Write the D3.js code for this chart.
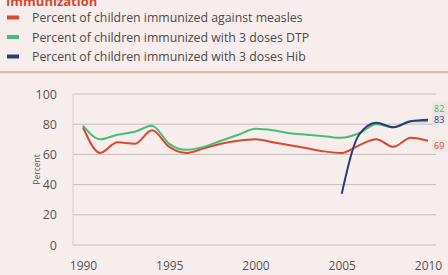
<!DOCTYPE html>
<html>
<head>
<meta charset="utf-8">
<script src="https://cdn.jsdelivr.net/npm/d3@7"></script>
<style>
  body { margin: 0; background: #f8eded; }
  svg { display: block; font-family: "Open Sans", sans-serif; }
</style>
</head>
<body>
<div class="canvas"></div>
<script>
const years = d3.range(1990, 2011);
const measles = [78, 61, 68, 67, 76, 65, 61, 64, 67, 69, 70, 68, 66, 64, 62, 61, 66, 70, 65, 71, 69];
const dtp = [79, 70, 73, 75, 79, 67, 63, 65, 69, 73, 77, 76, 74, 73, 72, 71, 74, 80, 78, 82, 82];
const hibYears = [2005, 2006, 2007, 2008, 2009, 2010];
const hib = [34, 73, 81, 78, 82, 83];
const yTicks = [0, 20, 40, 60, 80, 100];
const xTicks = [1990, 1995, 2000, 2005, 2010];

const seriesNames = [
  'Percent of children immunized against measles',
  'Percent of children immunized with 3 doses DTP',
  'Percent of children immunized with 3 doses Hib'
];
const colors = ['#d9482c', '#45bd7c', '#2b3b78'];

const width = 448;
const height = 275;

const svg = d3.select('.canvas')
  .append('svg')
  .attr('width', width)
  .attr('height', height);

// title, cut off by the top edge like the reference
svg.append('text')
  .attr('x', 6)
  .attr('y', 6)
  .attr('fill', '#d9482c')
  .attr('font-weight', 'bold')
  .attr('font-size', 13)
  .text('Immunization');

// legend
const legend = svg.append('g');
seriesNames.forEach((name, i) => {
  const row = legend.append('g').attr('transform', `translate(0, ${18 + i * 19.5})`);
  row.append('rect')
    .attr('x', 7).attr('y', -2.5)
    .attr('width', 12).attr('height', 4)
    .attr('fill', colors[i]);
  row.append('text')
    .attr('x', 32).attr('y', 4)
    .attr('font-size', 12.3)
    .attr('fill', '#4a4a4a')
    .text(name);
});

svg.append('line')
  .attr('x1', 0).attr('x2', width)
  .attr('y1', 72).attr('y2', 72)
  .attr('stroke', '#eba088')
  .attr('stroke-width', 1.5);

// chart
const x = d3.scaleLinear().domain([1990, 2010]).range([83, 428]);
const y = d3.scaleLinear().domain([0, 100]).range([245, 94]);

const grid = svg.append('g');
grid.selectAll('line')
  .data(yTicks)
  .join('line')
  .attr('x1', 73).attr('x2', 436)
  .attr('y1', d => y(d)).attr('y2', d => y(d))
  .attr('stroke', '#c4bcbc')
  .attr('stroke-width', 1);
svg.append('line')
  .attr('x1', 73).attr('x2', 73)
  .attr('y1', y(100)).attr('y2', y(0))
  .attr('stroke', '#d4cccc');

const yAxis = d3.axisLeft(y).tickValues(yTicks).tickSize(0).tickPadding(0);
const yAxisGroup = svg.append('g').attr('transform', 'translate(57, 0)').call(yAxis);
yAxisGroup.select('.domain').remove();
yAxisGroup.selectAll('text').attr('font-size', 12.5).attr('fill', '#555').attr('font-family', 'Open Sans');

const xAxis = d3.axisBottom(x).tickValues(xTicks).tickFormat(d3.format('d')).tickSize(0).tickPadding(0);
const xAxisGroup = svg.append('g').attr('transform', 'translate(0, 261)').call(xAxis);
xAxisGroup.select('.domain').remove();
xAxisGroup.selectAll('text').attr('font-size', 12).attr('fill', '#555').attr('font-family', 'Open Sans');

svg.append('text')
  .attr('transform', `translate(40, ${y(50)}) rotate(-90)`)
  .attr('text-anchor', 'middle')
  .attr('font-size', 8.5)
  .attr('fill', '#555')
  .text('Percent');

const line = d3.line()
  .x(d => x(d[0]))
  .y(d => y(d[1]))
  .curve(d3.curveMonotoneX);

const series = [
  years.map((yr, i) => [yr, measles[i]]),
  years.map((yr, i) => [yr, dtp[i]]),
  hibYears.map((yr, i) => [yr, hib[i]])
];

svg.append('g')
  .selectAll('path')
  .data(series)
  .join('path')
  .attr('fill', 'none')
  .attr('stroke', (d, i) => colors[i])
  .attr('stroke-width', 2)
  .attr('d', line);

// end labels
const endLabels = [
  { text: dtp[dtp.length - 1], color: colors[1], dy: -13 },
  { text: hib[hib.length - 1], color: colors[2], dy: 0 },
  { text: measles[measles.length - 1], color: colors[0], dy: 5 }
];
const lastVals = [dtp[dtp.length - 1], hib[hib.length - 1], measles[measles.length - 1]];
endLabels.forEach((d, i) => {
  const g = svg.append('g').attr('transform', `translate(${x(2010) + 4}, ${y(lastVals[i]) + d.dy})`);
  g.append('rect')
    .attr('x', 0).attr('y', -6)
    .attr('width', 16).attr('height', 12)
    .attr('fill', '#ece4e4')
    .attr('opacity', 0.8);
  g.append('text')
    .attr('x', 2).attr('y', 3.5)
    .attr('font-size', 9)
    .attr('fill', d.color)
    .text(d.text);
});
</script>
</body>
</html>
